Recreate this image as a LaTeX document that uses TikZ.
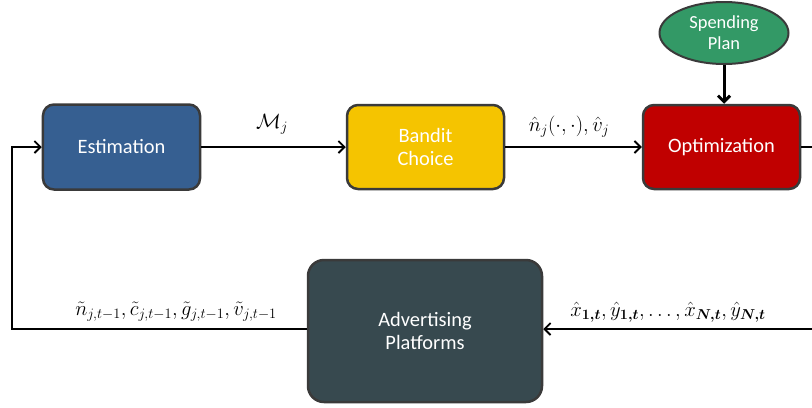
\documentclass[tikz,border=0pt]{standalone}
\usepackage{fontspec}
\usepackage{bm}
\setmainfont{Carlito}
\usetikzlibrary{arrows.meta,shapes.geometric}
\definecolor{estblue}{HTML}{365F91}
\definecolor{banyel}{HTML}{F5C400}
\definecolor{optred}{HTML}{C00000}
\definecolor{spgreen}{HTML}{339966}
\definecolor{advslate}{HTML}{37494F}
\definecolor{edgegray}{HTML}{3A3A3A}
\tikzset{
  blk/.style={draw=edgegray, line width=2.5bp, rounded corners=11bp, text=white,
    font=\fontsize{20.5}{23}\selectfont, align=center, inner sep=0pt},
  conn/.style={line width=1.8bp, -{Straight Barb[length=6bp,width=12bp,line width=1.8bp]}},
  plain/.style={line width=1.8bp},
  mlab/.style={font=\fontsize{20}{22}\selectfont, inner sep=0pt}
}
\begin{document}
\begin{tikzpicture}[x=1bp,y=-1bp]
\useasboundingbox (0,0) rectangle (812,407);
\node[blk, fill=estblue, minimum width=157bp, minimum height=85bp] (est) at (121.5,147) {Estimation};
\node[blk, fill=banyel, minimum width=157bp, minimum height=84bp] (ban) at (425.5,147) {Bandit\\Choice};
\node[blk, fill=optred, minimum width=157bp, minimum height=84bp] (opt) at (721.5,147) {Optimization};
\node[draw=edgegray, line width=2bp, ellipse, fill=spgreen, text=white, minimum width=129bp, minimum height=62bp, inner sep=0pt, align=center, font=\fontsize{18.5}{21}\selectfont] (sp) at (724,33) {Spending\\Plan};
\node[blk, fill=advslate, rounded corners=16bp, minimum width=234bp, minimum height=142bp] (adv) at (425,331) {Advertising\\Platforms};

\coordinate (rtop) at (812,147);
\coordinate (rbot) at (812,329);
\coordinate (lbot) at (12,329);
\coordinate (ltop) at (12,147);

\draw[conn] (est.east) -- (ban.west);
\draw[conn] (ban.east) -- (opt.west);
\draw[line width=3bp, -{Straight Barb[length=6bp,width=12bp,line width=3bp]}] (sp.south) -- (sp.south |- opt.north);
\draw[plain] (opt.east) -- (rtop);
\draw[conn] (rbot) -- (adv.east |- rbot);
\draw[conn] (adv.west |- lbot) -- (lbot) -- (ltop) -- (est.west);

\node[mlab] (l1) at (272,124) {$\mathcal{M}_j$};
\node[mlab] (l2) at (569,127) {$\hat{n}_j(\cdot,\cdot),\hat{v}_j$};
\node[mlab] (l3) at (176,312) {$\tilde{n}_{j,t-1},\tilde{c}_{j,t-1},\tilde{g}_{j,t-1},\tilde{v}_{j,t-1}$};
\node[mlab] (l4) at (668,312) {$\hat{x}_{\bm{1,t}},\hat{y}_{\bm{1,t}},\ldots,\hat{x}_{\bm{N,t}},\hat{y}_{\bm{N,t}}$};
\end{tikzpicture}
\end{document}
